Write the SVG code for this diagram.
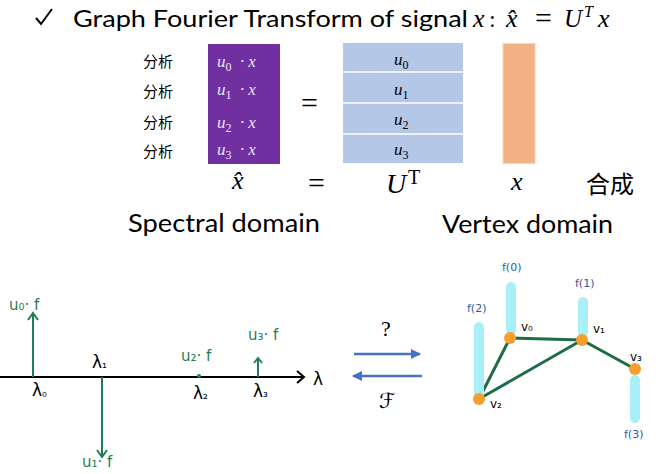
<svg xmlns="http://www.w3.org/2000/svg" width="664" height="474" viewBox="0 0 664 474">
<style>
.sans{font-family:Lato,"Open Sans","Liberation Sans",sans-serif;fill:#000}
.math{font-family:"Liberation Serif","DejaVu Serif",serif;font-style:italic;fill:#000}
.rm{font-family:"Liberation Serif","DejaVu Serif",serif;font-style:normal;fill:#000}
.cjk{font-family:"Noto Sans CJK SC",sans-serif;fill:#000}
.hand{font-family:"DejaVu Sans","Liberation Sans",sans-serif}
.green{fill:#1F7E55}
.blue{fill:#2E5AA0}
.stem{stroke:#1F7E55;stroke-width:2;fill:none}
.edge{stroke:#1E6B45;stroke-width:3;fill:none}
.bar{stroke:#A9EFF8;stroke-width:10;stroke-linecap:round;fill:none}
.node{fill:#F5A02E}
.bl{stroke:#4472C4;stroke-width:2.5;fill:none}
.lav{fill:#EEE4F6}
</style>
<defs>
<marker id="ah" viewBox="0 0 10 10" refX="9" refY="5" markerWidth="4" markerHeight="4" orient="auto">
<path d="M0,0 L10,5 L0,10 z" fill="#4472C4"/>
</marker>
</defs>
<rect width="664" height="474" fill="#fff"/>

<g id="title">
<path d="M36,18 L41,24 L52,9" stroke="#000" stroke-width="2" fill="none"/>
<text class="sans" x="73" y="27" font-size="24" textLength="395" lengthAdjust="spacingAndGlyphs">Graph Fourier Transform of signal</text>
<text class="math" x="473" y="27" font-size="26">x</text>
<text class="rm" x="489" y="27" font-size="24">:</text>
<text class="math" x="506" y="27" font-size="26">x̂</text>
<text class="rm" x="535" y="28" font-size="30">=</text>
<text class="math" x="564" y="27" font-size="25">U</text>
<text class="math" x="584" y="17" font-size="16">T</text>
<text class="math" x="598" y="27" font-size="26">x</text>
</g>

<g id="labels-analysis">
<text class="cjk" x="143" y="67" font-size="15">分析</text>
<text class="cjk" x="143" y="97" font-size="15">分析</text>
<text class="cjk" x="143" y="128" font-size="15">分析</text>
<text class="cjk" x="143" y="157" font-size="15">分析</text>
</g>

<g id="spectral-vector">
<rect x="208" y="44" width="72" height="120" fill="#7030A0"/>
<g font-size="17">
<text class="math lav" x="217" y="67">u<tspan class="rm lav" font-size="12" dy="4">0</tspan><tspan class="rm lav" dy="-4" dx="8">·</tspan><tspan dx="3">x</tspan></text>
<text class="math lav" x="217" y="95">u<tspan class="rm lav" font-size="12" dy="4">1</tspan><tspan class="rm lav" dy="-4" dx="8">·</tspan><tspan dx="3">x</tspan></text>
<text class="math lav" x="217" y="128">u<tspan class="rm lav" font-size="12" dy="4">2</tspan><tspan class="rm lav" dy="-4" dx="8">·</tspan><tspan dx="3">x</tspan></text>
<text class="math lav" x="217" y="155">u<tspan class="rm lav" font-size="12" dy="4">3</tspan><tspan class="rm lav" dy="-4" dx="8">·</tspan><tspan dx="3">x</tspan></text>
</g>
</g>

<g id="equals-top">
<text class="rm" x="301" y="113" font-size="30">=</text>
</g>

<g id="matrix-UT">
<rect x="343" y="43" width="120" height="120" fill="#B4C7E7"/>
<line x1="343" y1="72" x2="463" y2="72" stroke="#fff" stroke-width="1.5"/>
<line x1="343" y1="103" x2="463" y2="103" stroke="#fff" stroke-width="1.5"/>
<line x1="343" y1="134" x2="463" y2="134" stroke="#fff" stroke-width="1.5"/>
<g font-size="17">
<text class="math" x="394" y="65">u<tspan class="rm" font-size="12" dy="4">0</tspan></text>
<text class="math" x="394" y="95">u<tspan class="rm" font-size="12" dy="4">1</tspan></text>
<text class="math" x="394" y="125">u<tspan class="rm" font-size="12" dy="4">2</tspan></text>
<text class="math" x="394" y="155">u<tspan class="rm" font-size="12" dy="4">3</tspan></text>
</g>
</g>

<g id="vertex-vector">
<rect x="503" y="43.5" width="32" height="120" fill="#F4B183" stroke="#FAD3B6" stroke-width="1"/>
</g>

<g id="equation-bottom">
<text class="math" x="232" y="189" font-size="26">x̂</text>
<text class="rm" x="308" y="193" font-size="30">=</text>
<text class="math" x="386" y="193" font-size="28">U</text>
<text class="rm" x="408" y="184" font-size="20">T</text>
<text class="math" x="511" y="190" font-size="26">x</text>
<text class="cjk" x="586" y="193" font-size="24">合成</text>
</g>

<g id="domain-labels">
<text class="sans" x="128" y="232" font-size="25" textLength="192" lengthAdjust="spacingAndGlyphs">Spectral domain</text>
<text class="sans" x="442" y="233" font-size="25" textLength="171" lengthAdjust="spacingAndGlyphs">Vertex domain</text>
</g>

<g id="spectrum-axis">
<line x1="0" y1="377" x2="304" y2="377" stroke="#000" stroke-width="2"/>
<path d="M297,371 L304,377 L297,383" stroke="#000" stroke-width="2" fill="none"/>
<text class="hand" x="313" y="385" font-size="17">λ</text>
<text class="hand" x="32" y="396" font-size="17">λ<tspan font-size="12" dy="1">₀</tspan></text>
<text class="hand" x="92" y="368" font-size="17">λ<tspan font-size="12">₁</tspan></text>
<text class="hand" x="193" y="399" font-size="17">λ<tspan font-size="12">₂</tspan></text>
<text class="hand" x="253" y="397" font-size="17">λ<tspan font-size="12">₃</tspan></text>
</g>

<g id="spectrum-components">
<g class="hand green" font-size="15">
<text x="9" y="310">u₀· f</text>
<text x="82" y="467">u₁· f</text>
<text x="181" y="361">u₂· f</text>
<text x="248" y="340">u₃· f</text>
</g>
<circle cx="199" cy="376" r="2" fill="#1F7E55"/>
</g>

<g id="connectors">
<line class="stem" x1="33" y1="377" x2="33" y2="313"/>
<path class="stem" d="M28,320 L33,313 L38,320"/>
<line class="stem" x1="102" y1="377" x2="102" y2="457"/>
<path class="stem" d="M97,450 L102,457 L107,450"/>
<line class="stem" x1="258" y1="377" x2="258" y2="358"/>
<path class="stem" d="M254,363 L258,358 L262,363"/>
<line class="bl" x1="354" y1="354" x2="420" y2="354" marker-end="url(#ah)"/>
<line class="bl" x1="422" y1="376" x2="353" y2="376" marker-end="url(#ah)"/>
<line class="edge" x1="510" y1="338" x2="582" y2="340"/>
<line class="edge" x1="510" y1="338" x2="479" y2="399"/>
<line class="edge" x1="479" y1="399" x2="582" y2="340"/>
<line class="edge" x1="582" y1="340" x2="635" y2="369"/>
</g>

<g id="transform-labels">
<text class="rm" x="381" y="336" font-size="22">?</text>
<text x="379" y="408" font-size="21" style="font-family:'DejaVu Sans',sans-serif;font-style:normal" fill="#000">ℱ</text>
</g>

<g id="signal-bars">
<line class="bar" x1="511" y1="287" x2="511" y2="330"/>
<line class="bar" x1="583" y1="302" x2="583" y2="332"/>
<line class="bar" x1="479" y1="327" x2="479" y2="397"/>
<line class="bar" x1="635" y1="380" x2="635" y2="418"/>
</g>

<g id="v0">
<circle class="node" cx="510" cy="338" r="6"/>
<text class="hand" x="521" y="331" font-size="12">v₀</text>
<text class="hand blue" x="502" y="271" font-size="11">f(0)</text>
</g>
<g id="v1">
<circle class="node" cx="582" cy="340" r="6"/>
<text class="hand" x="593" y="333" font-size="12">v₁</text>
<text class="hand blue" x="575" y="287" font-size="11">f(1)</text>
</g>
<g id="v2">
<circle class="node" cx="479" cy="399" r="6"/>
<text class="hand" x="490" y="408" font-size="12">v₂</text>
<text class="hand blue" x="467" y="312" font-size="11">f(2)</text>
</g>
<g id="v3">
<circle class="node" cx="635" cy="369" r="6"/>
<text class="hand" x="630" y="361" font-size="12">v₃</text>
<text class="hand blue" x="624" y="438" font-size="11">f(3)</text>
</g>
</svg>
